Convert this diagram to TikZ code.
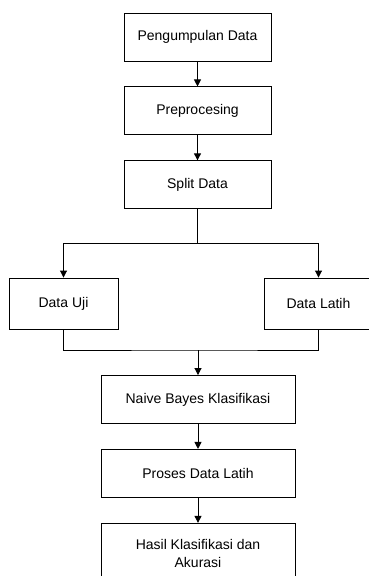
\documentclass[tikz,border=0pt]{standalone}
\usepackage{fontspec}
\setmainfont{Liberation Sans}
\usetikzlibrary{positioning,arrows.meta}

\begin{document}
\begin{tikzpicture}[x=1pt,y=1pt,node distance=25pt,
    box/.style={rectangle,draw,line width=.9pt,minimum width=147pt,minimum height=48pt,font=\fontsize{14}{18}\selectfont,align=center},
    wide/.style={box,minimum width=194pt},
    side/.style={box,minimum width=109pt,minimum height=51pt},
    arr/.style={-{Triangle[width=7pt,length=7pt]},line width=.9pt}]
    \useasboundingbox (0,0) rectangle (369,-576);
    \node[box] (pd) at (197.5,-37) {Pengumpulan Data};
    \node[box,below=of pd] (pre) {Preprocesing};
    \node[box,below=of pre] (split) {Split Data};
    \node[side] (uji) at (63.5,-303.5) {Data Uji};
    \node[side] (latih) at (318.5,-303.5) {Data Latih};
    \node[wide] (naive) at (198,-399.5) {Naive Bayes Klasifikasi};
    \node[wide,below=of naive] (proses) {Proses Data Latih};
    \node[wide,below=of proses,minimum height=60pt] (hasil) {Hasil Klasifikasi dan\\Akurasi};

    % split into the two sets
    \coordinate (fork) at (197.5,-243);
    \coordinate (join) at (198,-350);

    \draw[arr] (pd) -- (pre);
    \draw[arr] (pre) -- (split);
    \draw[line width=.9pt] (split.south) -- (fork);
    \draw[arr] (fork) -| (uji.north);
    \draw[arr] (fork) -| (latih.north);
    \draw[line width=.9pt] (uji.south) |- (join) -| (latih.south);
    \draw[arr] (join) -- (naive.north);
    \draw[arr] (naive) -- (proses);
    \draw[arr] (proses) -- (hasil);
  \end{tikzpicture}
\end{document}
